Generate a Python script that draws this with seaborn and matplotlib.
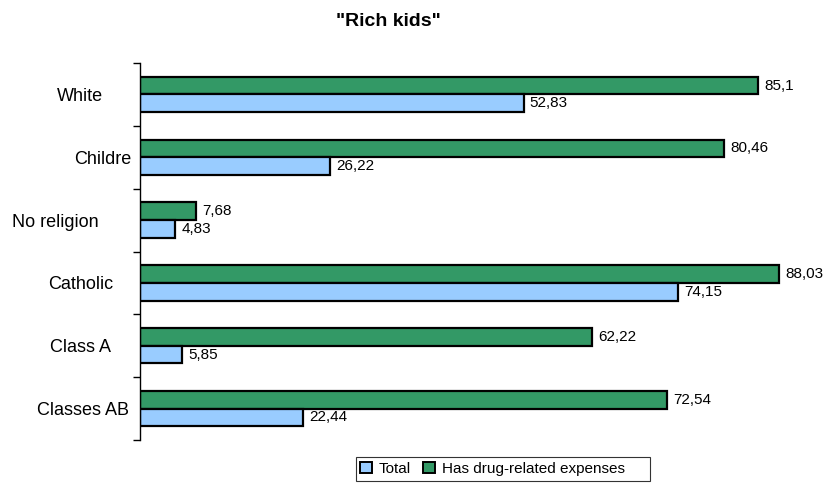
import matplotlib
matplotlib.use("Agg")
import matplotlib.pyplot as plt
from matplotlib.patches import Patch, Rectangle
from matplotlib.transforms import ScaledTranslation
import seaborn as sns
import pandas as pd

categories = ["White", "Childre", "No religion", "Catholic", "Class A", "Classes AB"]
total = [52.83, 26.22, 4.83, 74.15, 5.85, 22.44]
drug_expenses = [85.1, 80.46, 7.68, 88.03, 62.22, 72.54]
series_names = ["Total", "Has drug-related expenses"]
colors = {"Total": "#99CCFF", "Has drug-related expenses": "#339966"}

df = pd.DataFrame({
    "category": categories * 2,
    "value": drug_expenses + total,
    "series": [series_names[1]] * len(categories) + [series_names[0]] * len(categories),
})

sns.set_style("white")
plt.rcParams["font.family"] = ["Liberation Sans", "DejaVu Sans"]
plt.rcParams["text.color"] = "black"
plt.rcParams["ytick.color"] = "black"
plt.rcParams["ytick.labelcolor"] = "black"

W, H = 826, 486
fig = plt.figure(figsize=(W / 100, H / 100), dpi=100)
ax = fig.add_axes([140 / W, 1 - 440 / H, 678 / W, 377 / H])

sns.barplot(
    data=df, y="category", x="value", hue="series",
    order=categories, hue_order=[series_names[1], series_names[0]],
    palette=colors, saturation=1, orient="h", width=0.56, gap=0,
    edgecolor="black", linewidth=1.6, ax=ax, legend=False,
)

ax.set_xlim(0, 678 / 7.26)
ax.set_ylim(len(categories) - 0.5, -0.5)

# value labels with comma decimal separator
for container in ax.containers:
    labels = [f"{bar.get_width():g}".replace(".", ",") for bar in container]
    ax.bar_label(container, labels=labels, padding=4.5, fontsize=11, color="black")

ax.set_xlabel("")
ax.set_ylabel("")
ax.set_xticks([])
for side in ["top", "right", "bottom"]:
    ax.spines[side].set_visible(False)
ax.spines["left"].set_color("black")
ax.spines["left"].set_linewidth(1.0)

ax.set_yticks(range(len(categories)))
ax.set_yticklabels(categories, fontsize=13, ha="center", color="black")
ax.tick_params(axis="y", which="major", length=0, pad=43)
ax.set_yticks([i - 0.5 for i in range(len(categories) + 1)], minor=True)
ax.tick_params(axis="y", which="minor", length=5, width=1, color="black", direction="out", left=True)

# wrapped category labels sit off the common centre line
label_shift_px = {"Childre": 22, "No religion": -25, "Classes AB": 3}
for lbl in ax.get_yticklabels():
    dx = label_shift_px.get(lbl.get_text(), 0)
    if dx:
        lbl.set_transform(lbl.get_transform() + ScaledTranslation(dx / 100, 0, fig.dpi_scale_trans))

fig.text(388 / W, 1 - 22 / H, '"Rich kids"', ha="center", va="center",
         fontsize=14, fontweight="bold", color="black")

handles = [Patch(facecolor=colors[n], edgecolor="black", linewidth=1.4, label=n) for n in series_names]
leg = fig.legend(handles=handles, loc="center left", bbox_to_anchor=(360 / W, 1 - 469 / H),
                 ncol=2, frameon=False, fontsize=11,
                 handlelength=0.78, handleheight=0.78, handletextpad=0.45,
                 columnspacing=0.8, borderpad=0, borderaxespad=0)
fig.patches.append(Rectangle((356 / W, 1 - 481 / H), 294 / W, 24 / H,
                             transform=fig.transFigure, fill=False,
                             edgecolor="#333333", linewidth=0.8))

fig.savefig("out.png", dpi=100)
